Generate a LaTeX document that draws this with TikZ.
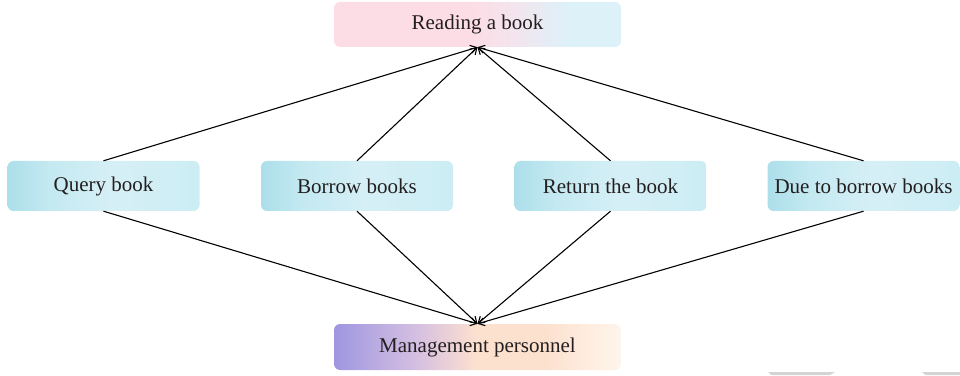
\documentclass[tikz,border=0pt]{standalone}
\usepackage{fontspec}
\setmainfont{Liberation Serif}
\usetikzlibrary{arrows.meta}

\definecolor{txt}{RGB}{35,31,32}
\definecolor{pinkA}{RGB}{252,221,229}
\definecolor{pinkB}{RGB}{244,228,237}
\definecolor{blueA}{RGB}{221,241,249}
\definecolor{cyanA}{RGB}{172,223,234}
\definecolor{cyanB}{RGB}{196,233,241}
\definecolor{cyanC}{RGB}{214,239,246}
\definecolor{cyanD}{RGB}{204,237,244}
\definecolor{violA}{RGB}{158,150,225}
\definecolor{violB}{RGB}{212,190,225}
\definecolor{peachA}{RGB}{253,225,207}
\definecolor{peachB}{RGB}{254,245,236}
\definecolor{wm}{RGB}{212,212,212}

% node boxes span the 25bp--75bp band of each shading
\pgfdeclarehorizontalshading{topshade}{100bp}{
  color(0bp)=(pinkA); color(49bp)=(pinkA); color(56bp)=(pinkB);
  color(66bp)=(blueA); color(100bp)=(blueA)}
\pgfdeclarehorizontalshading{midshade}{100bp}{
  color(0bp)=(cyanA); color(25bp)=(cyanA); color(36bp)=(cyanB);
  color(52bp)=(cyanC); color(75bp)=(cyanD); color(100bp)=(cyanD)}
\pgfdeclarehorizontalshading{botshade}{100bp}{
  color(0bp)=(violA); color(25bp)=(violA); color(39bp)=(violB);
  color(50bp)=(peachA); color(62bp)=(peachA); color(75bp)=(peachB);
  color(100bp)=(peachB)}

\tikzset{
  box/.style={rounded corners=6pt, inner sep=0pt, text=txt,
    font=\fontsize{21}{24}\selectfont},
  topbox/.style={box, minimum width=287pt, minimum height=45pt,
    shading=topshade},
  midbox/.style={box, minimum width=192pt, minimum height=50pt,
    shading=midshade},
  botbox/.style={box, minimum width=287pt, minimum height=46pt,
    shading=botshade},
  link/.style={draw=black, line width=1.1pt,
    -{Straight Barb[length=6pt,width=8pt,line width=1.1pt]}}
}

\begin{document}
\begin{tikzpicture}[x=1pt,y=1pt]
\useasboundingbox (0,0) rectangle (960,375);

\node[topbox] (read) at (477.5,350.5) {Reading a book};
\node[midbox] (query)  at (103.5,189) {Query book};
\node[midbox] (borrow) at (357,189) {Borrow books};
\node[midbox] (ret)    at (610.5,189) {Return the book};
\node[midbox] (due)    at (863.5,189) {Due to borrow books};
\node[botbox] (mgmt) at (477.5,28) {Management personnel};

\foreach \n in {query,borrow,ret,due}{
  \draw[link] (\n.north) -- (read.south);
  \draw[link] (\n.south) -- (mgmt.north);
}

% faint marks along the lower edge
\fill[wm] (768,3) -- (835,3) -- (830,0) -- (771,0) -- cycle;
\fill[wm] (922,3) -- (960,3) -- (960,0) -- (925,0) -- cycle;
\end{tikzpicture}
\end{document}
